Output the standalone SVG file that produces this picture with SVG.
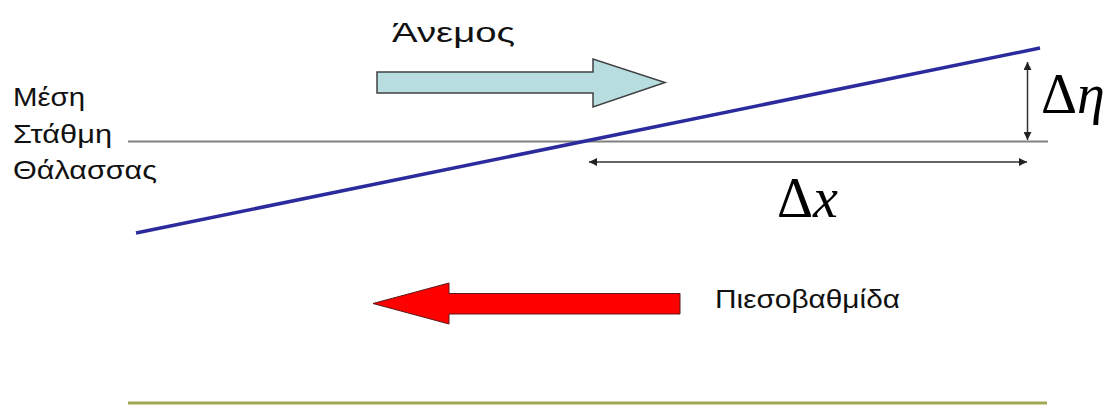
<svg xmlns="http://www.w3.org/2000/svg" width="1118" height="405" viewBox="0 0 1118 405">
  <style>
    .lbl { font-family: "Liberation Sans", Arial, sans-serif; fill: #111; }
    .math { font-family: "Liberation Serif", "Times New Roman", serif; fill: #000; font-size: 56px; }
    .dim { stroke: #333; stroke-width: 1.5; fill: none; }
  </style>
  <defs>
    <marker id="ah" viewBox="0 0 10 10" refX="10" refY="5" markerWidth="9" markerHeight="8" markerUnits="userSpaceOnUse" orient="auto-start-reverse">
      <path d="M0,0 L10,5 L0,10 z" fill="#222"/>
    </marker>
  </defs>
  <rect width="1118" height="405" fill="#ffffff"/>

  <g id="sea-level">
    <line x1="128" y1="141.5" x2="1048" y2="141.5" stroke="#808080" stroke-width="2"/>
    <text class="lbl" x="13" y="106" font-size="26.5" textLength="72" lengthAdjust="spacingAndGlyphs">Μέση</text>
    <text class="lbl" x="13" y="143" font-size="26.5" textLength="99" lengthAdjust="spacingAndGlyphs">Στάθμη</text>
    <text class="lbl" x="13" y="179" font-size="26.5" textLength="144" lengthAdjust="spacingAndGlyphs">Θάλασσας</text>
  </g>

  <g id="surface">
    <line x1="136" y1="233" x2="1040" y2="48" stroke="#2b2b9e" stroke-width="3.5"/>
  </g>

  <g id="wind">
    <path d="M377,72 H593 V59 L665,82.5 L593,107 V93 H377 Z" fill="#b7dde0" stroke="#404040" stroke-width="1.5"/>
    <text class="lbl" x="392" y="42" font-size="28.5" textLength="123" lengthAdjust="spacingAndGlyphs">Άνεμος</text>
  </g>

  <g id="pressure-gradient">
    <path d="M680,293.5 H449 V283 L373,303.5 L449,324 V314 H680 Z" fill="#ff0000" stroke="#5a1a1a" stroke-width="1"/>
    <text class="lbl" x="715" y="308" font-size="26" textLength="185" lengthAdjust="spacingAndGlyphs">Πιεσοβαθμίδα</text>
  </g>

  <g id="connectors">
    <line class="dim" x1="1027.5" y1="62" x2="1027.5" y2="140" marker-start="url(#ah)" marker-end="url(#ah)"/>
    <line class="dim" x1="589" y1="162" x2="1027" y2="162" marker-start="url(#ah)" marker-end="url(#ah)"/>
  </g>

  <g id="delta-eta">
    <text class="math" x="1041" y="113" font-size="58">Δ<tspan font-style="italic">η</tspan></text>
  </g>

  <g id="delta-x">
    <text class="math" x="777" y="217">Δ<tspan font-style="italic">x</tspan></text>
  </g>

  <g id="bottom">
    <line x1="128" y1="403" x2="1047" y2="403" stroke="#a0a852" stroke-width="3"/>
  </g>
</svg>
